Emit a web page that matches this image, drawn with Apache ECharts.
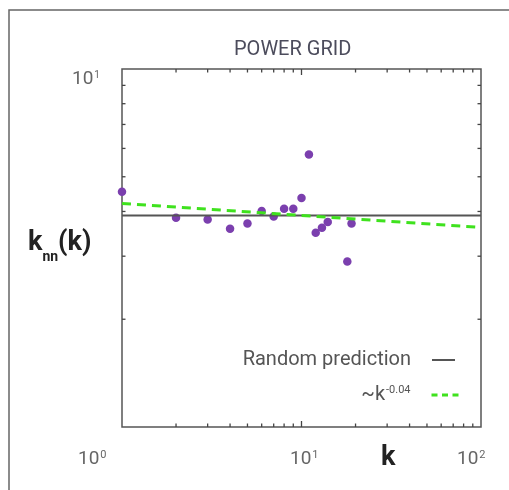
<!DOCTYPE html>
<html>
<head>
<meta charset="utf-8">
<script src="https://cdn.jsdelivr.net/npm/echarts@6/dist/echarts.min.js"></script>
<style>
html,body{margin:0;padding:0;background:#fff;}
#chart{width:509px;height:490px;}
</style>
</head>
<body>
<div id="chart"></div>
<script>
// ---- data ----
const titleText = 'POWER GRID';
const kValues   = [1, 2, 3, 4, 5, 6, 7, 8, 9, 10, 11, 12, 13, 14, 18, 19];
const knnValues = [4.54, 3.84, 3.80, 3.58, 3.70, 4.01, 3.87, 4.07, 4.07, 4.36, 5.77, 3.49, 3.60, 3.74, 2.90, 3.70];
const randomPredictionK = [1, 100];
const randomPredictionY = [3.90, 3.90];
const fitK = [1, 100];
const fitY = [4.21, 3.61];
const xTickLabels = [['10', '0'], ['10', '1'], ['10', '2']];
const yTickLabels = [['10', '1']];
const xMinorTicks = [2, 3, 4, 5, 6, 7, 8, 9, 10, 20, 30, 40, 50, 60, 70, 80, 90];
const yMinorTicks = [2, 3, 4, 5, 6, 7, 8, 9];
const seriesNames = ['Random prediction', '~k^-0.04'];

const chart = echarts.init(document.getElementById('chart'));
const FONT = 'Roboto, "Noto Sans", sans-serif';
const axisColor = '#555';
const fitColor = '#3fe21e';

function zip(a, b) { return a.map((v, i) => [v, b[i]]); }

function supText(base, sup, size, supSize, color) {
  return {
    type: 'text',
    style: {
      text: '{b|' + base + '}{s|' + sup + '}',
      rich: {
        b: { fontSize: size, fontFamily: FONT, fill: color, verticalAlign: 'bottom', lineHeight: size },
        s: { fontSize: supSize, fontFamily: FONT, fill: color, verticalAlign: 'top', padding: [0, 0, size * 0.45, 1], lineHeight: size }
      }
    }
  };
}

const xLabelPos = [[78, 450], [290, 450], [457, 450]];
const graphics = [
  { type: 'rect', shape: { x: 9, y: 10, width: 700, height: 700 }, style: { fill: 'none', stroke: '#666', lineWidth: 1.5 }, silent: true }
];
xTickLabels.forEach((t, i) => {
  const g = supText(t[0], t[1], 19, 11, '#666');
  g.left = xLabelPos[i][0]; g.top = xLabelPos[i][1];
  graphics.push(g);
});
yTickLabels.forEach((t) => {
  const g = supText(t[0], t[1], 19, 10, '#666');
  g.left = 72; g.top = 70;
  graphics.push(g);
});
// axis names
graphics.push({
  type: 'text', left: 381, top: 445,
  style: { text: 'k', fontSize: 27, fontWeight: 'bold', fontFamily: FONT, fill: '#222' }
});
graphics.push({
  type: 'text', left: 28, top: 230,
  style: {
    text: '{a|k}{b|nn}{a|(k)}',
    rich: {
      a: { fontSize: 27, fontWeight: 'bold', fontFamily: FONT, fill: '#222', verticalAlign: 'bottom', lineHeight: 36 },
      b: { fontSize: 14, fontWeight: 'bold', fontFamily: FONT, fill: '#222', verticalAlign: 'bottom', lineHeight: 36, padding: [0, 0, -7, 0] }
    }
  }
});

const option = {
  animation: false,
  backgroundColor: '#fff',
  title: {
    text: titleText, left: 229, top: 35,
    textStyle: { fontSize: 20, fontWeight: 'normal', color: '#4c4c5c', fontFamily: FONT }
  },
  grid: { left: 122, right: 28, top: 69, bottom: 63, show: true, borderColor: axisColor, borderWidth: 1.5 },
  xAxis: {
    type: 'log', logBase: 10, min: 1, max: 100,
    axisLine: { show: false }, axisTick: { show: false }, axisLabel: { show: false }, splitLine: { show: false }
  },
  yAxis: {
    type: 'log', logBase: 10, min: 1, max: 10,
    axisLine: { show: false }, axisTick: { show: false }, axisLabel: { show: false }, splitLine: { show: false }
  },
  legend: [
    {
      data: [{ name: seriesNames[0] }], right: 48, top: 345, align: 'right',
      itemWidth: 23, itemHeight: 14,
      itemStyle: { opacity: 0 },
      lineStyle: { color: '#555', width: 2 },
      textStyle: { fontSize: 20, color: '#555', fontFamily: FONT, padding: [0, 16, 0, 0] }
    },
    {
      data: [{ name: seriesNames[1] }], right: 44, top: 380, align: 'right',
      itemWidth: 27, itemHeight: 14,
      itemStyle: { opacity: 0 },
      lineStyle: { color: fitColor, width: 3, type: [6, 4.5] },
      formatter: () => '~k{s|-0.04}',
      textStyle: {
        fontSize: 20, color: '#555', fontFamily: FONT, padding: [0, 16, 0, 0],
        rich: { s: { fontSize: 11, color: '#555', fontFamily: FONT, verticalAlign: 'top', padding: [0, 0, 9, 1] } }
      }
    }
  ],
  graphic: graphics,
  series: [
    {
      type: 'custom', silent: true, clip: false,
      data: xMinorTicks.map(v => [v, 1]),
      renderItem: (params, api) => {
        const k = api.value(0);
        const b = api.coord([k, 1]);
        const t = api.coord([k, 10]);
        const len = k === 10 ? 6 : 3.5;
        const st = { stroke: '#444', lineWidth: 1.3 };
        return { type: 'group', children: [
          { type: 'line', shape: { x1: b[0], y1: b[1], x2: b[0], y2: b[1] - len }, style: st },
          { type: 'line', shape: { x1: t[0], y1: t[1], x2: t[0], y2: t[1] + len }, style: st }
        ] };
      }
    },
    {
      type: 'custom', silent: true, clip: false,
      data: yMinorTicks.map(v => [1, v]),
      renderItem: (params, api) => {
        const v = api.value(1);
        const l = api.coord([1, v]);
        const r = api.coord([100, v]);
        const len = 3.5;
        const st = { stroke: '#444', lineWidth: 1.3 };
        return { type: 'group', children: [
          { type: 'line', shape: { x1: l[0], y1: l[1], x2: l[0] + len, y2: l[1] }, style: st },
          { type: 'line', shape: { x1: r[0], y1: r[1], x2: r[0] - len, y2: r[1] }, style: st }
        ] };
      }
    },
    {
      name: seriesNames[0], type: 'line', symbol: 'none',
      data: zip(randomPredictionK, randomPredictionY),
      lineStyle: { color: '#555', width: 2 }, itemStyle: { color: '#555' }
    },
    {
      name: seriesNames[1], type: 'line', symbol: 'none',
      data: zip(fitK, fitY),
      lineStyle: { color: fitColor, width: 3, type: [9, 6] }, itemStyle: { color: fitColor }
    },
    {
      type: 'scatter', symbol: 'circle', symbolSize: 8.5,
      data: zip(kValues, knnValues),
      itemStyle: { color: '#7b3fae', opacity: 1 }, clip: false
    }
  ]
};
chart.setOption(option);
</script>
</body>
</html>
